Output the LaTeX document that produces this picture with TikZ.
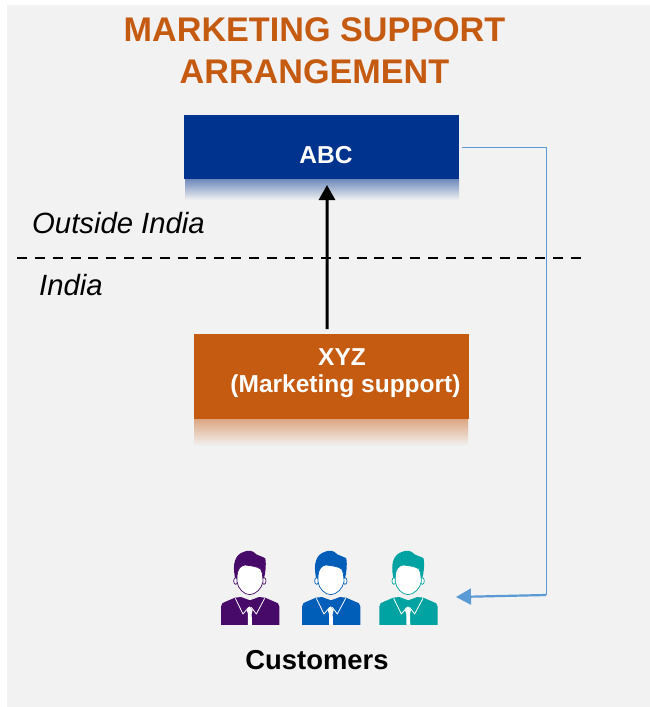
\documentclass[tikz,border=0pt]{standalone}
\usepackage{fontspec}
\setmainfont{Liberation Sans}
\usetikzlibrary{arrows.meta}
\definecolor{pagebg}{HTML}{F2F2F2}
\definecolor{orng}{HTML}{C55A11}
\definecolor{navy}{HTML}{00338D}
\definecolor{linkblue}{HTML}{5B9BD5}
\definecolor{purp}{HTML}{470A68}
\definecolor{midblue}{HTML}{005EB8}
\definecolor{teal2}{HTML}{00A3A1}
\tikzset{
  x=1bp,y=-1bp,
  titletext/.style={font=\bfseries\fontsize{34.3}{38}\selectfont,text=orng,inner sep=0pt,align=center},
  boxtext/.style={font=\bfseries\fontsize{24.6}{29}\selectfont,text=white,inner sep=0pt},
  boxlabel/.style={font=\bfseries\fontsize{27.5}{32}\selectfont,inner sep=0pt},
  regionlabel/.style={font=\itshape\fontsize{29.4}{34}\selectfont,inner sep=0pt,anchor=base west},
  boxframe/.style={minimum width=275bp,inner sep=0pt,outer sep=0pt},
  personcol/.store in=\personcolor,
  person/.pic={
    \begin{scope}[x=0.3333bp,y=-0.3333bp]
      % body
      \fill[\personcolor] (18,240) -- (18,185) .. controls (18,176) and (24,172) .. (32,170)
        -- (60,158) -- (78,156) -- (105,166) -- (132,156) -- (150,158) -- (178,170)
        .. controls (187,172) and (193,176) .. (193,185) -- (193,240) -- cycle;
      % collar
      \draw[white,line width=.8bp,line join=round] (61,160) -- (84,207) -- (101,187);
      \draw[white,line width=.8bp,line join=round] (149,160) -- (124,207) -- (109,187);
      % tie
      \fill[white] (104,184) -- (113,195) -- (110,207) -- (111,240) -- (99,240) -- (99,207) -- (95,195) -- cycle;
      % hair
      \fill[\personcolor] (59,92) .. controls (53,60) and (58,28) .. (88,20)
        .. controls (100,15) and (112,15) .. (124,28) .. controls (134,33) and (145,36) .. (151,40)
        .. controls (154,60) and (152,80) .. (147,100) -- (60,100) -- cycle;
      % ears
      \filldraw[fill=white,draw=\personcolor,line width=.7bp] (62,108) ellipse[x radius=6,y radius=10];
      \filldraw[fill=white,draw=\personcolor,line width=.7bp] (147,108) ellipse[x radius=6,y radius=10];
      % face
      \filldraw[fill=white,draw=\personcolor,line width=.7bp] (66,92) .. controls (68,72) and (76,62) .. (90,60)
        .. controls (105,62) and (127,64) .. (137,72) .. controls (141,78) and (143,85) .. (144,110)
        .. controls (141,130) and (122,149) .. (104,149) .. controls (87,149) and (68,130) .. (66,110) -- cycle;
    \end{scope}
  }
}
\begin{document}
\begin{tikzpicture}[line cap=butt]
\useasboundingbox (0,0) rectangle (650,707);
\fill[white] (0,0) rectangle (650,707);
\fill[pagebg] (7,5) rectangle (650,707);

\node[titletext] (t1) at (314.5,30) {MARKETING SUPPORT};
\node[titletext] (t2) at (314.5,72) {ARRANGEMENT};

% shadows
\shade[top color=navy!55!pagebg,bottom color=pagebg] (185,179) rectangle (459,200);
\shade[top color=orng!50!pagebg,bottom color=pagebg] (194,419) rectangle (468,446);

\node[boxframe,fill=navy,minimum height=64bp] (abc) at (321.5,147) {};
\node[boxtext] (abct) at (326,155) {ABC};

\node[boxframe,fill=orng,minimum height=85bp] (xyz) at (331.5,376.5) {};
\node[boxtext] (xyzt) at (342,357) {XYZ};
\node[boxtext] (xyzm) at (345.5,386) {(Marketing support)};

\node[regionlabel] (out) at (32,233) {Outside India};
\node[regionlabel] (ind) at (39,295) {India};

\coordinate (dl) at (17,258);
\coordinate (dr) at (581,258);
\draw[line width=2bp,dash pattern=on 10bp off 7.87bp] (dl) -- (dr);

\pic[personcol=purp] at (215,545) {person};
\pic[personcol=midblue] at (296,545) {person};
\pic[personcol=teal2] at (373.3,545) {person};
\node[minimum width=217bp,minimum height=75bp,inner sep=0pt,outer sep=0pt] (people) at (329.5,587.5) {};

\draw[line width=3bp,-{Triangle[length=15bp,width=16bp]},shorten <=5bp,shorten >=6bp]
  ([xshift=-4.5bp]xyz.north) -- ([xshift=5.5bp]abc.south);

\coordinate (bl1) at (546,147);
\coordinate (bl2) at (546,595);
\draw[linkblue,line width=1bp,shorten <=3bp] (abc.east) -- (bl1) -- (bl2);
\draw[linkblue,line width=2.2bp,-{Triangle[length=15bp,width=16bp]}] (bl2) -- ([xshift=18bp,yshift=-9.5bp]people.east);

\node[boxlabel] (cust) at (317,660) {Customers};
\end{tikzpicture}
\end{document}
